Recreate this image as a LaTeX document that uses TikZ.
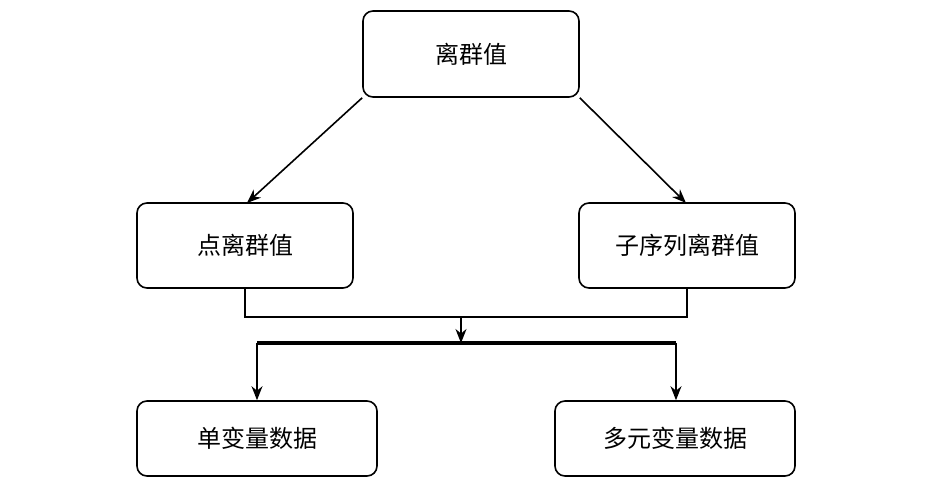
\documentclass[tikz,border=0pt]{standalone}
\usepackage{fontspec}
\setmainfont{Noto Sans CJK SC}
\usetikzlibrary{arrows.meta}
\usetikzlibrary{positioning}
\begin{document}
\begin{tikzpicture}[x=1pt,y=-1pt,line width=1.6pt,every node/.style={draw,rounded corners=10pt,line width=1.6pt,font=\fontsize{24}{28}\selectfont,inner sep=0pt},>={Stealth[length=14pt,width=11pt]}]
  \useasboundingbox (0,0) rectangle (938,484);
  \node (top) at (471,54)[minimum width=216pt,minimum height=86pt]{离群值};
  \node (pt) at (245,245.5)[minimum width=216pt,minimum height=85pt]{点离群值};
  \node (sub) at (687,245.5)[minimum width=216pt,minimum height=85pt]{子序列离群值};
  \node (uni) at (257,438.5)[minimum width=240pt,minimum height=75pt]{单变量数据};
  \node (multi) at (675,438.5)[minimum width=240pt,minimum height=75pt]{多元变量数据};

  \coordinate (join) at (461,317);
  \coordinate (bar) at (461,343);
  \coordinate (barL) at (257,343);
  \coordinate (barR) at (676,343);

  \draw[->](top.south west)--(247,203);
  \draw[->](top.south east)--(686,203);
  \draw(pt.south)|-(join);
  \draw(sub.south)|-(join);
  \draw[->](join)--(bar);
  \draw[line width=3.2pt](barL)--(barR);
  \draw[->](barL)--(uni.north);
  \draw[->](barR)--(barR|-multi.north);
  \end{tikzpicture}
\end{document}
